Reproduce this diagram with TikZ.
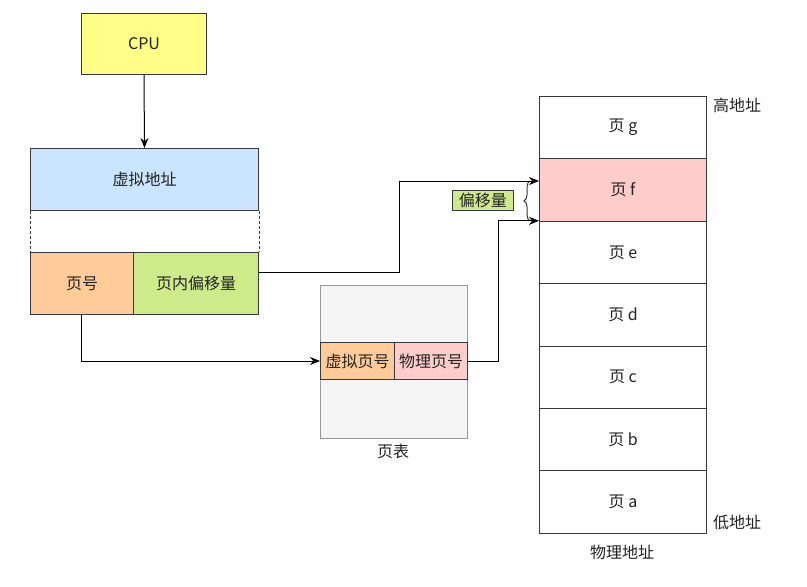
\documentclass[tikz,border=0pt]{standalone}
\usepackage{fontspec}
\setmainfont{Noto Sans CJK SC}
\usetikzlibrary{arrows.meta,decorations.pathreplacing}
\definecolor{cpuyel}{HTML}{FFFF88}
\definecolor{vablue}{HTML}{CCE5FF}
\definecolor{pnorange}{HTML}{FFCC99}
\definecolor{offgreen}{HTML}{CDEB8B}
\definecolor{pfpink}{HTML}{FFCCCC}
\definecolor{ptgray}{HTML}{F5F5F5}
\definecolor{strk}{HTML}{36393D}
\definecolor{txt}{HTML}{222222}
\tikzset{
  box/.style={draw=strk, line width=1pt, inner sep=0pt, anchor=north west, font=\fontsize{16}{19}\selectfont, text=txt},
  conn/.style={draw=black, line width=1pt, -{Stealth[length=10pt,width=8pt]}},
  lbl/.style={font=\fontsize{16}{19}\selectfont, text=txt, inner sep=0pt}
}
\begin{document}
\begin{tikzpicture}[x=1pt,y=-1pt]
\useasboundingbox (0,0) rectangle (807,587);
% CPU
\node[box, fill=cpuyel, minimum width=125pt, minimum height=61pt] (cpu) at (81,13) {CPU};
% virtual address
\node[box, fill=vablue, minimum width=228pt, minimum height=62pt] (va) at (30,148) {虚拟地址};
\node[box, fill=pnorange, minimum width=103pt, minimum height=62pt] (pn) at (30,252) {页号};
\node[box, fill=offgreen, minimum width=125pt, minimum height=62pt] (off) at (133,252) {页内偏移量};
\draw[strk, line width=1pt, dash pattern=on 3pt off 2pt] (va.south west) -- (pn.north west);
\draw[strk, line width=1pt, dash pattern=on 3pt off 2pt] (va.south east) -- (off.north east);
% page table
\node[box, draw=gray!80, fill=ptgray, minimum width=147pt, minimum height=153pt] (pt) at (320,285) {};
\node[box, fill=pnorange, minimum width=74pt, minimum height=37pt] (vpn) at (320,342) {虚拟页号};
\node[box, fill=pfpink, minimum width=73pt, minimum height=37pt] (ppn) at (394,342) {物理页号};
\node[lbl] (ptl) at (393,451) {页表};
% physical memory
\node[box, fill=white, minimum width=167pt, minimum height=62.4pt] (pg) at (539,96) {页 g};
\node[box, fill=pfpink, minimum width=167pt, minimum height=62.4pt] (pf) at (539,158.4) {页 f};
\node[box, fill=white, minimum width=167pt, minimum height=62.4pt] (pe) at (539,220.8) {页 e};
\node[box, fill=white, minimum width=167pt, minimum height=62.4pt] (pd) at (539,283.2) {页 d};
\node[box, fill=white, minimum width=167pt, minimum height=62.4pt] (pc) at (539,345.6) {页 c};
\node[box, fill=white, minimum width=167pt, minimum height=62.4pt] (pb) at (539,408) {页 b};
\node[box, fill=white, minimum width=167pt, minimum height=62.4pt] (pa) at (539,470.4) {页 a};
\node[lbl] (hi) at (737,105) {高地址};
\node[lbl] (lo) at (737,522) {低地址};
\node[lbl] (phys) at (622,552) {物理地址};
% offset label and brace
\node[box, fill=offgreen, minimum width=61pt, minimum height=20pt, line width=0.7pt] (offl) at (452,190) {偏移量};
\draw[strk, line width=1pt, decorate, decoration={brace, amplitude=6pt}] (530,220.8) -- (530,181);
% connectors
\draw[conn] (cpu.south) -- (va.north);
\coordinate (c1) at (399,272);
\draw[conn] (off.east |- c1) -- (c1) -- (399,181) -- (pf.west |- 0,181);
\draw[conn] (81,314) -- (81,361) -- (vpn.west |- 0,361);
\draw[conn] (ppn.east |- 0,361) -- (498,361) -- (498,220.8) -- (pe.north west);
\end{tikzpicture}
\end{document}
